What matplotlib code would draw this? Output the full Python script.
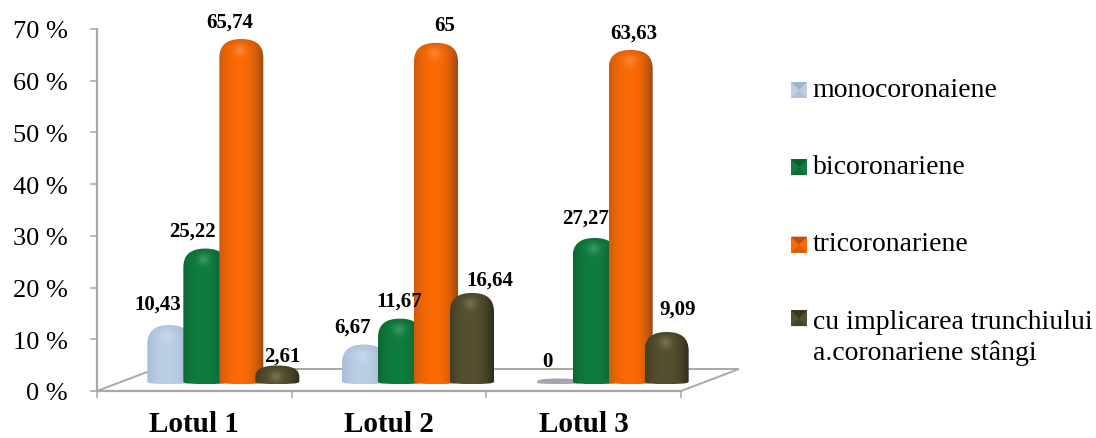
import numpy as np
import matplotlib
matplotlib.use('Agg')
import matplotlib.pyplot as plt
from matplotlib.legend_handler import HandlerBase
from matplotlib.patches import Patch, PathPatch, Polygon, Rectangle
from matplotlib.path import Path

plt.rcParams['font.family'] = ['Liberation Serif', 'DejaVu Serif']

# chart values
groups = ['Lotul 1', 'Lotul 2', 'Lotul 3']
series_names = ['monocoronaiene', 'bicoronariene', 'tricoronariene',
                'cu implicarea trunchiului\na.coronariene stângi']
monocoronaiene = [10.43, 6.67, 0]
bicoronariene = [25.22, 11.67, 27.27]
tricoronariene = [65.74, 65, 63.63]
trunchi = [2.61, 16.64, 9.09]
y_ticks = [0, 10, 20, 30, 40, 50, 60, 70]

series = [monocoronaiene, bicoronariene, tricoronariene, trunchi]

# base colour, edge colour of each cylinder
colors = [('#bccfe6', '#93a8c2'), ('#0f7d3e', '#0a5029'),
          ('#fb6a04', '#9a4a14'), ('#55502f', '#2f2c18')]
zero_color = '#a3a6ad'

W, H = 1096, 439
PX_X = 584 / 3      # pixels per category
PX_Y = 362 / 70     # pixels per percent
BAR_W = 44 / PX_X
BAR_STEP = 36 / PX_X
BAR_START = -47 / PX_X
BASE_LIFT = 7 / PX_Y
TOP_LIFT = 12 / PX_Y
DOME = 19 / PX_Y
GREY = '#a8a8a8'

# label shift from the top centre of each bar, in pixels
label_dx = [[-12, -11, -11], [-13, -1, -9], [-12, 9, 3], [5, 18, 11]]
label_dy = [[21, 18, 18], [18, 18, 20], [17, 18, 17], [10, 13, 23]]


def hex_rgb(c):
    return np.array(matplotlib.colors.to_rgb(c))


def cylinder_image(base, edge, height_px):
    """RGB shading for a cylinder with a rounded glossy top"""
    nx, ny = 44, max(int(height_px), 4)
    tx = np.linspace(0, 1, nx)
    ty = np.linspace(0, height_px, ny)  # distance from the top, pixels
    xx, yy = np.meshgrid(tx, ty)
    # dark towards the sides, more so on the right
    side = np.where(xx < 0.45, ((0.45 - xx) / 0.45) ** 2 * 0.45, ((xx - 0.45) / 0.55) ** 2.5)
    side = np.clip(side, 0, 1)[..., None]
    img = hex_rgb(base) * (1 - side) + hex_rgb(edge) * side
    # rim of the dome and spot of light below it
    rim = np.clip(1 - yy / 8, 0, 1)[..., None] * 0.3
    img = img * (1 - rim) + hex_rgb(edge) * rim
    spot = np.exp(-((xx - 0.47) ** 2 / 0.018 + (yy - 11) ** 2 / 30))[..., None] * 0.18
    img = img * (1 - spot) + spot
    return np.clip(img, 0, 1)


def cylinder_path(x0, x1, y0, y1):
    """Outline with a domed top and a slightly curved foot"""
    dome = min(DOME, (y1 - y0) * 0.62)
    foot = min(2.5 / PX_Y, (y1 - y0) * 0.3)
    w = x1 - x0
    k = 0.25 * w
    verts = [(x0, y0 + foot), (x0, y1 - dome),
             (x0, y1 - dome * 0.35), (x0 + k * 0.6, y1), (x0 + 0.5 * w, y1),
             (x1 - k * 0.6, y1), (x1, y1 - dome * 0.35), (x1, y1 - dome),
             (x1, y0 + foot),
             (x1, y0), (x0 + 0.75 * w, y0), (x0 + 0.5 * w, y0),
             (x0 + 0.25 * w, y0), (x0, y0), (x0, y0 + foot), (x0, y0 + foot)]
    codes = [Path.MOVETO, Path.LINETO,
             Path.CURVE4, Path.CURVE4, Path.CURVE4,
             Path.CURVE4, Path.CURVE4, Path.CURVE4,
             Path.LINETO,
             Path.CURVE4, Path.CURVE4, Path.CURVE4,
             Path.CURVE4, Path.CURVE4, Path.CURVE4, Path.CLOSEPOLY]
    return Path(verts, codes)


def draw_cylinder(ax, x0, value, base, edge, z):
    y0 = BASE_LIFT
    y1 = value + TOP_LIFT
    x1 = x0 + BAR_W
    if value == 0:
        y1 = y0 + 5.5 / PX_Y
        img = np.ones((2, 2, 3)) * hex_rgb(zero_color)
    else:
        img = cylinder_image(base, edge, (y1 - y0) * PX_Y)
    im = ax.imshow(img, extent=(x0, x1, y0, y1), origin='upper', aspect='auto',
                   zorder=z, interpolation='bilinear')
    clip = PathPatch(cylinder_path(x0, x1, y0, y1), transform=ax.transData,
                     facecolor='none', edgecolor='none')
    ax.add_patch(clip)
    im.set_clip_path(clip)
    # last bar hangs over the right end of the axes
    im.set_clip_box(ax.figure.bbox)


class SwatchHandler(HandlerBase):
    """Small bevelled square used as legend key, level with the first text line"""

    def create_artists(self, legend, orig_handle, xdescent, ydescent, width, height, fontsize, trans):
        base = orig_handle.get_facecolor()
        edge = orig_handle.get_edgecolor()
        s = 16 * 0.72
        m = s / 2
        extra_lines = orig_handle.get_label().count('\n')
        x0 = -xdescent
        y0 = -ydescent + (height - s) / 2 - 2.8 + extra_lines * 16
        square = Rectangle((x0, y0), s, s, facecolor=base, edgecolor='none', transform=trans)
        upper = Polygon([(x0, y0 + s), (x0 + s, y0 + s), (x0 + m, y0 + m)], facecolor=edge,
                        edgecolor='none', alpha=0.7, transform=trans)
        lower = Polygon([(x0, y0), (x0 + s, y0), (x0 + m, y0 + m)], facecolor=edge,
                        edgecolor='none', alpha=0.35, transform=trans)
        return [square, upper, lower]


fig = plt.figure(figsize=(W / 100, H / 100), dpi=100)
ax = fig.add_axes([97 / W, (H - 392) / H, 584 / W, 362 / H])

# floor of the 3d plot
floor_depth_x = 58 / PX_X
floor_depth_y = 22 / PX_Y
ax.add_patch(Polygon([(-0.5, 0), (2.5, 0), (2.5 + floor_depth_x, floor_depth_y),
                      (-0.5 + floor_depth_x, floor_depth_y)], closed=True, facecolor='white',
                     edgecolor=GREY, linewidth=1.4, zorder=1, clip_on=False))

for i, values in enumerate(series):
    base, edge = colors[i]
    for j, v in enumerate(values):
        left = j + BAR_START + i * BAR_STEP
        draw_cylinder(ax, left, v, base, edge, 3 + i)
        label = f'{v:g}'.replace('.', ',')
        ax.annotate(label, (left + BAR_W / 2, v + TOP_LIFT), textcoords='offset pixels',
                    xytext=(label_dx[i][j], label_dy[i][j]), ha='center', va='center',
                    fontsize=15, fontweight='bold', color='black', zorder=10)

ax.set_xlim(-0.5, 2.5)
ax.set_ylim(0, 70)
ax.patch.set_visible(False)

for side in ['top', 'right']:
    ax.spines[side].set_visible(False)
for side in ['left', 'bottom']:
    ax.spines[side].set_color(GREY)
    ax.spines[side].set_linewidth(1.6)
    ax.spines[side].set_zorder(2)

ax.set_yticks(y_ticks)
ax.set_yticklabels([f'{t} %' for t in y_ticks], fontsize=19)
ax.tick_params(axis='y', length=5, width=1.1, color=GREY, pad=16)

# group boundaries carry the tick marks, names sit between them
ax.set_xticks([-0.5, 0.5, 1.5, 2.5])
ax.set_xticklabels([])
ax.tick_params(axis='x', which='major', length=5, width=1.1, color=GREY)
ax.set_xticks([0, 1, 2], minor=True)
ax.set_xticklabels(groups, minor=True, fontsize=21, fontweight='bold')
ax.tick_params(axis='x', which='minor', length=0, pad=14)

handles = [Patch(facecolor=colors[i][0], edgecolor=colors[i][1], label=series_names[i]) for i in range(4)]
leg = fig.legend(handles=handles, handler_map={Patch: SwatchHandler()}, loc='upper left',
                 bbox_to_anchor=(791 / W, 1 - 78 / H), frameon=False, fontsize=20, borderpad=0,
                 borderaxespad=0, handlelength=0.58, handleheight=0.6, handletextpad=0.2,
                 labelspacing=1.88, labelcolor='black')
leg.get_texts()[3].set_linespacing(1.3)

fig.savefig('out.png', dpi=100)
